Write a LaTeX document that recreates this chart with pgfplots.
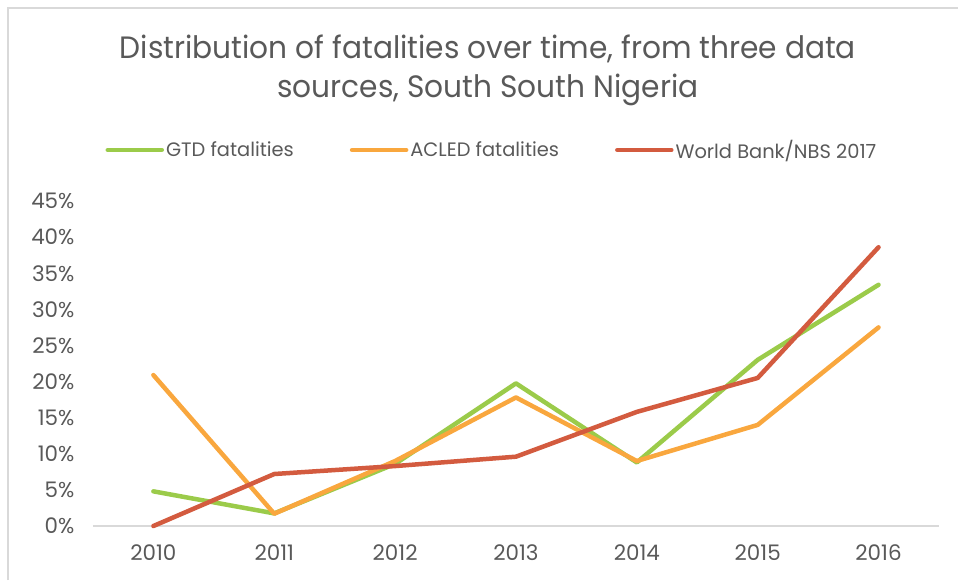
\documentclass[border=0pt]{standalone}
\usepackage{pgfplots}
\pgfplotsset{compat=1.18}
\usepackage{fontspec}
\setmainfont{Poppins}
\newfontfamily\titlefont[FakeStretch=0.96]{Poppins}
\definecolor{txt}{HTML}{595959}
\definecolor{gtd}{HTML}{9BCB4A}
\definecolor{acled}{HTML}{F9A73E}
\definecolor{wb}{HTML}{D35B3F}
\definecolor{axl}{HTML}{D9D9D9}
\begin{document}
\begin{tikzpicture}
\begin{axis}[
  scale only axis, width=846bp, height=325bp,
  xmin=-0.5, xmax=6.5, ymin=0, ymax=45,
  xtick={0,...,6}, xticklabels={2010,2011,2012,2013,2014,2015,2016},
  ytick={0,5,...,45}, yticklabel={\pgfmathprintnumber{\tick}\%},
  axis x line*=bottom, axis y line*=left,
  x axis line style={axl, line width=1.5bp, -},
  y axis line style={draw=none},
  major tick length=0pt,
  tick label style={txt, font=\fontsize{21.5}{24}\selectfont},
  /pgf/number format/assume math mode=true,
  xticklabel style={yshift=-15bp},
  yticklabel style={xshift=-15bp},
  clip=false,
  legend columns=3,
  legend style={at={(0.4716,1.157)}, anchor=center, draw=none, fill=none,
    font=\fontsize{19.5}{22}\selectfont\color{txt},
    /tikz/every even column/.append style={column sep=54bp}},
  legend image code/.code={\draw[#1, line cap=round] (0bp,0bp) -- (54bp,0bp);},
  every axis plot/.append style={line width=4.5bp, line cap=round, line join=round},
]
\addplot[gtd] coordinates {(0,4.8) (1,1.75) (2,8.6) (3,19.75) (4,8.8) (5,23.0) (6,33.4)};
\addlegendentry{GTD fatalities}
\addplot[acled] coordinates {(0,20.9) (1,1.7) (2,9.0) (3,17.8) (4,9.0) (5,14.0) (6,27.5)};
\addlegendentry{ACLED fatalities}
\addplot[wb] coordinates {(0,0) (1,7.2) (2,8.3) (3,9.6) (4,15.8) (5,20.5) (6,38.6)};
\addlegendentry{World Bank/NBS 2017}
\coordinate (bl) at (rel axis cs:-0.1099,-0.1662);
\coordinate (tr) at (rel axis cs:1.0225,1.6185);
\draw[axl, line width=1.5bp] (rel axis cs:-0.1005,-0.1662) -- (rel axis cs:-0.1005,1.5938) -- (rel axis cs:1.0225,1.5938);
\node[txt, font=\titlefont\fontsize{31}{36}\selectfont] at (rel axis cs:0.4669,1.468) {Distribution of fatalities over time, from three data};
\node[txt, font=\titlefont\fontsize{31}{36}\selectfont] at (rel axis cs:0.4669,1.342) {sources, South South Nigeria};
\end{axis}
\pgfresetboundingbox
\path[use as bounding box] (bl) rectangle (tr);
\end{tikzpicture}
\end{document}
